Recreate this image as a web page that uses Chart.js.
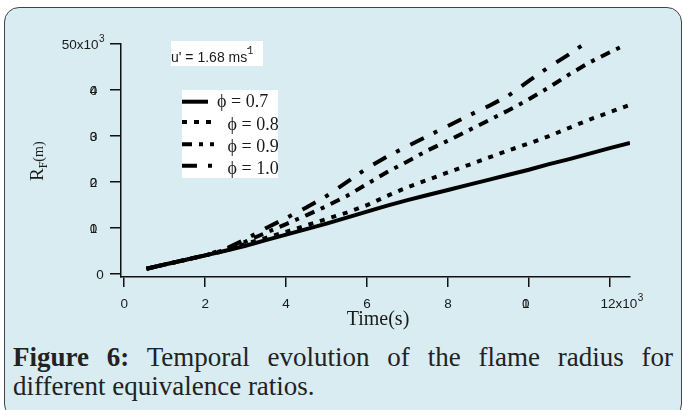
<!DOCTYPE html>
<html lang="en">
<head>
    <title>flame radius</title>
    <meta charset="utf-8">
    <!-- Chart JS -->
    <script src="https://cdn.jsdelivr.net/npm/chart.js@4.4.1/dist/chart.umd.min.js"></script>
</head>
<style>
  body {
    margin: 0;
    background-color: #ffffff;
  }

  .fig-box {
    position: absolute;
    left: 4px;
    top: 7px;
    width: 676px;
    height: 410px;
    border: 1.5px solid #444;
    border-radius: 15px;
    background-color: #d8ecf1;
  }

  .chart-wrap {
    position: absolute;
    left: 0;
    top: 0;
    width: 683px;
    height: 330px;
  }

  .caption {
    position: absolute;
    left: 13px;
    width: 660px;
    font-family: "Liberation Serif", serif;
    font-size: 27px;
    line-height: 30px;
    color: #222;
    white-space: nowrap;
  }

  .caption.first {
    top: 342px;
    text-align: justify;
    text-align-last: justify;
    white-space: normal;
  }

  .caption.second {
    top: 371px;
  }
</style>
<body>

  <div class="fig-box"></div>
  <div class="chart-wrap"><canvas id="myChart"></canvas></div>
  <div class="caption first"><b>Figure 6:</b> Temporal evolution of the flame radius for</div>
  <div class="caption second">different equivalence ratios.</div>

  <script>
    // time (s) and flame radius R_F (m) for each equivalence ratio
    const time = [550, 1000, 1500, 2000, 2500, 3000, 3500, 4000, 4500, 5000, 5500, 6000, 6500,
                  7000, 7500, 8000, 8500, 9000, 9500, 10000, 10500, 11000, 11500, 12000, 12500];
    const r07 = [1200, 2100, 3100, 4100, 5100, 6200, 7400, 8600, 9800, 11000, 12300, 13600, 14900,
                 16100, 17200, 18300, 19400, 20500, 21600, 22700, 23900, 25000, 26200, 27400, 28500];
    const r08 = [1200, 2100, 3100, 4100, 5100, 6600, 7900, 9200, 10600, 12000, 13400, 15000, 17000,
                 18900, 20500, 22100, 23700, 25300, 26900, 28400, 30000, 31800, 33600, 35200, 36800];
    const time09 = [550, 1000, 1500, 2000, 2500, 3000, 3500, 4000, 4500, 5000, 5500, 6000, 6500,
                    7000, 7500, 8000, 8500, 9000, 9500, 10000, 10500, 11000, 11500, 12000, 12400];
    const r09 = [1200, 2100, 3100, 4100, 5300, 7100, 9000, 10900, 12800, 14800, 17000, 19600, 22200,
                 24500, 26900, 29000, 31200, 33400, 35600, 38000, 40600, 43400, 46000, 48200, 49900];
    const time10 = [550, 1000, 1500, 2000, 2500, 3000, 3500, 4000, 4500, 5000, 5500, 6000, 6500,
                    7000, 7500, 8000, 8500, 9000, 9500, 10000, 10500, 11000, 11330];
    const r10 = [1200, 2100, 3100, 4100, 5500, 7600, 10000, 12200, 14500, 17000, 20000, 23000, 25600,
                 27800, 30000, 32200, 34400, 36500, 38800, 42000, 45000, 47800, 49800];

    const phiLabels = ["\u03D5 = 0.7", "\u03D5 = 0.8", "\u03D5 = 0.9", "\u03D5 = 1.0"];
    const xTicks = [0, 2000, 4000, 6000, 8000, 10000, 12000];
    const yTicks = [0, 10000, 20000, 30000, 40000, 50000];
    const turbNote = "u' = 1.68 ms";

    function toPoints(xs, ys) {
      return xs.map((x, i) => ({ x: x, y: ys[i] }));
    }

    const series = [
      { label: phiLabels[0], data: toPoints(time, r07), borderDash: [] },
      { label: phiLabels[1], data: toPoints(time, r08), borderDash: [5, 7] },
      { label: phiLabels[2], data: toPoints(time09, r09), borderDash: [10, 7, 4, 7] },
      { label: phiLabels[3], data: toPoints(time10, r10), borderDash: [15, 11, 4, 12] }
    ];

    const sansFont = '"Liberation Sans", Arial, sans-serif';
    const serifFont = '"Liberation Serif", "Times New Roman", serif';

    // tick labels; multi-digit middle labels are stacked on one spot
    function drawTickLabel(ctx, value, isLast, x, y, align) {
      const k = value / 1000;
      ctx.font = '13.5px ' + sansFont;
      ctx.textBaseline = 'alphabetic';
      if (isLast) {
        const base = k + 'x10';
        const w = ctx.measureText(base).width;
        let left = align === 'right' ? x - w - 5 : x - w / 2 - 3;
        ctx.textAlign = 'left';
        ctx.fillText(base, left, y + 5);
        ctx.font = '10px ' + sansFont;
        ctx.fillText('3', left + w + 0.5, y - 2);
        return;
      }
      const s = String(k);
      ctx.textAlign = 'center';
      if (s.length === 1) {
        ctx.fillText(s, align === 'right' ? x - 3.5 : x, y + 5);
      } else {
        for (const ch of s) {
          ctx.fillText(ch, align === 'right' ? x - 10 : x - 3, y + 5);
        }
      }
    }

    const figureText = {
      id: 'figureText',
      afterDraw(chart) {
        const ctx = chart.ctx;
        const xs = chart.scales.x;
        const ys = chart.scales.y;
        ctx.save();
        ctx.fillStyle = '#1a1a1a';

        // y tick labels
        yTicks.forEach((v, i) => {
          drawTickLabel(ctx, v, i === yTicks.length - 1, 103.5, ys.getPixelForValue(v), 'right');
        });
        // x tick labels
        xTicks.forEach((v, i) => {
          const px = xs.getPixelForValue(v);
          if (i === xTicks.length - 1) {
            drawTickLabel(ctx, v, true, px + 12, 302.5, 'center');
          } else {
            drawTickLabel(ctx, v, false, px, 302.5, 'center');
          }
        });

        // axis titles
        ctx.textAlign = 'center';
        ctx.font = '20px ' + serifFont;
        ctx.fillText('Time(s)', 378, 325);

        ctx.save();
        ctx.translate(43, 181);
        ctx.rotate(-Math.PI / 2);
        ctx.textAlign = 'left';
        ctx.font = '19px ' + serifFont;
        ctx.fillText('R', 0, 0);
        let w = ctx.measureText('R').width;
        ctx.font = '12px ' + serifFont;
        ctx.fillText('F', w, 4);
        w += ctx.measureText('F').width;
        ctx.font = '14px ' + serifFont;
        ctx.fillText('(m)', w, 0);
        ctx.restore();

        // turbulence intensity note
        ctx.fillStyle = '#ffffff';
        ctx.fillRect(171, 41, 92, 25);
        ctx.fillStyle = '#1a1a1a';
        ctx.textAlign = 'left';
        ctx.font = '14px ' + sansFont;
        ctx.fillText(turbNote, 171, 61.5);
        const nw = ctx.measureText(turbNote).width;
        ctx.font = '10px ' + sansFont;
        ctx.fillText('-', 171 + nw - 0.5, 50.5);
        ctx.fillText('1', 171 + nw + 0.5, 53.5);

        // legend
        ctx.fillStyle = '#ffffff';
        ctx.fillRect(182, 90, 96, 88);
        const rowY = [101.7, 122, 144.3, 165.7];
        const textY = [102, 125, 147, 169];
        chart.data.datasets.forEach((ds, i) => {
          ctx.strokeStyle = '#000';
          ctx.lineWidth = 4;
          ctx.lineCap = 'butt';
          ctx.setLineDash(ds.borderDash);
          ctx.beginPath();
          ctx.moveTo(182, rowY[i]);
          ctx.lineTo(i === 0 ? 208 : 214, rowY[i]);
          ctx.stroke();
          ctx.setLineDash([]);
          ctx.fillStyle = '#1a1a1a';
          ctx.font = '18px ' + serifFont;
          ctx.textBaseline = 'middle';
          ctx.fillText(ds.label, i === 0 ? 217 : 227.5, textY[i]);
          ctx.textBaseline = 'alphabetic';
        });

        ctx.restore();
      }
    };

    new Chart("myChart", {
      type: "line",
      data: {
        datasets: series.map(s => ({
          label: s.label,
          data: s.data,
          borderColor: "#000",
          borderWidth: 4,
          borderDash: s.borderDash,
          borderCapStyle: "butt",
          pointRadius: 0,
          tension: 0,
          fill: false
        }))
      },
      options: {
        responsive: true,
        maintainAspectRatio: false,
        animation: false,
        events: [],
        layout: {
          padding: { top: 44, right: 53, bottom: 0, left: 0 }
        },
        plugins: {
          legend: { display: false },
          tooltip: { enabled: false }
        },
        scales: {
          x: {
            type: "linear",
            min: -80,
            max: 12500,
            afterBuildTicks: (scale) => { scale.ticks = xTicks.map(v => ({ value: v })); },
            afterFit: (scale) => { scale.height = 53; },
            border: { display: true, color: "#111", width: 1.5 },
            grid: { drawOnChartArea: false, drawTicks: true, tickLength: 10, color: "#111", lineWidth: 1.5 },
            ticks: { display: false }
          },
          y: {
            type: "linear",
            min: -600,
            max: 50000,
            afterBuildTicks: (scale) => { scale.ticks = yTicks.map(v => ({ value: v })); },
            afterFit: (scale) => { scale.width = 121; },
            border: { display: true, color: "#111", width: 1.5 },
            grid: { drawOnChartArea: false, drawTicks: true, tickLength: 11, color: "#111", lineWidth: 1.5 },
            ticks: { display: false }
          }
        }
      },
      plugins: [figureText]
    });
  </script>

</body>
</html>
